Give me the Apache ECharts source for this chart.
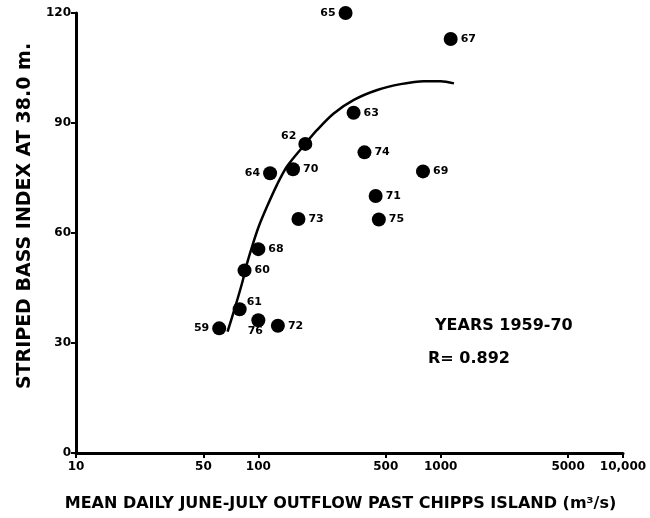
<!DOCTYPE html>
<html>
<head>
<meta charset="utf-8">
<script src="https://cdn.jsdelivr.net/npm/echarts@6/dist/echarts.min.js"></script>
<style>html,body{margin:0;padding:0;background:#fff}#c{width:650px;height:518px}</style>
</head>
<body>
<div id="c"></div>
<script>
// Data
const years   = ['59','60','61','62','63','64','65','67','68','69','70','71','72','73','74','75','76'];
const outflow = [61, 84, 79, 181, 333, 116, 301, 1135, 100, 800, 155, 440, 128, 166, 382, 458, 100];
const index   = [34, 49.8, 39.2, 84.3, 92.8, 76.3, 120, 112.9, 55.6, 76.8, 77.4, 70.1, 34.7, 63.8, 82, 63.7, 36.2];
// Fitted curve
const curveX = [67.8, 74.7, 81.4, 86.7, 92.4, 100.4, 111.6, 126.7, 143.8, 177.4, 210, 259, 334, 449, 603, 810, 1000, 1183];
const curveY = [33.1, 39.9, 46.3, 51.7, 56.3, 61.7, 67.2, 73.2, 78.2, 83.8, 88.1, 92.6, 96.3, 99, 100.6, 101.4, 101.4, 100.8];
const xTicks = [10, 50, 100, 500, 1000, 5000, 10000];
const xTitle = 'MEAN DAILY JUNE-JULY OUTFLOW PAST CHIPPS ISLAND (m³/s)';
const yTitle = 'STRIPED BASS INDEX AT 38.0 m.';
const notes  = ['YEARS 1959-70', 'R= 0.892'];

const labelPos = {'59':'left','64':'left','65':'left','62':'left','76':'bottom','61':'right'};
const labelOffset = {'62':[1,-8],'61':[-3,-7],'76':[-3,-5]};

const font = '"DejaVu Sans", sans-serif';
const chart = echarts.init(document.getElementById('c'));
chart.setOption({
  backgroundColor: '#fff',
  animation: false,
  grid: {left: 76, right: 27, top: 13, bottom: 65},
  xAxis: {
    type: 'log', logBase: 10, min: 10, max: 10000,
    name: xTitle,
    nameLocation: 'middle', nameGap: 43,
    nameTextStyle: {fontFamily: font, fontWeight: 'bold', fontSize: 16, color: '#000', padding: [0, 18, 0, 0]},
    axisLine: {lineStyle: {color: '#000', width: 3}},
    axisTick: {show: true, length: 5, lineStyle: {color: '#000', width: 2}, customValues: xTicks},
    axisLabel: {fontFamily: font, fontWeight: 'bold', fontSize: 12, color: '#000', margin: 8,
      customValues: xTicks,
      formatter: v => v >= 10000 ? '10,000' : String(v)},
    splitLine: {show: false}, minorTick: {show: false}
  },
  yAxis: {
    type: 'value', min: 0, max: 120, interval: 30,
    axisLine: {show: true, lineStyle: {color: '#000', width: 3}},
    axisTick: {show: true, length: 5, lineStyle: {color: '#000', width: 2}},
    axisLabel: {fontFamily: font, fontWeight: 'bold', fontSize: 12, color: '#000', margin: 5},
    splitLine: {show: false}
  },
  series: [
    {
      type: 'line', smooth: 0.3, symbol: 'none',
      lineStyle: {color: '#000', width: 2.5},
      data: curveX.map((x, i) => [x, curveY[i]]),
      z: 1
    },
    {
      type: 'scatter', symbolSize: 14,
      itemStyle: {color: '#000', opacity: 1},
      data: years.map((yr, i) => ({
        value: [outflow[i], index[i]],
        name: yr,
        label: {
          show: true,
          position: labelPos[yr] || 'right',
          offset: labelOffset[yr] || [0, 0],
          distance: 3,
          formatter: yr,
          fontFamily: font, fontWeight: 'bold', fontSize: 11, color: '#000'
        }
      })),
      z: 2
    }
  ],
  graphic: [
    {type: 'text', x: 25, y: 216, rotation: Math.PI / 2,
      style: {text: yTitle, fontFamily: font, fontWeight: 'bold', fontSize: 19, fill: '#000', align: 'center', verticalAlign: 'middle'}},
    {type: 'text', left: 435, top: 318, style: {text: notes[0], fontFamily: font, fontWeight: 'bold', fontSize: 16, fill: '#000'}},
    {type: 'text', left: 428, top: 351, style: {text: notes[1], fontFamily: font, fontWeight: 'bold', fontSize: 16, fill: '#000'}}
  ]
});
</script>
</body>
</html>
